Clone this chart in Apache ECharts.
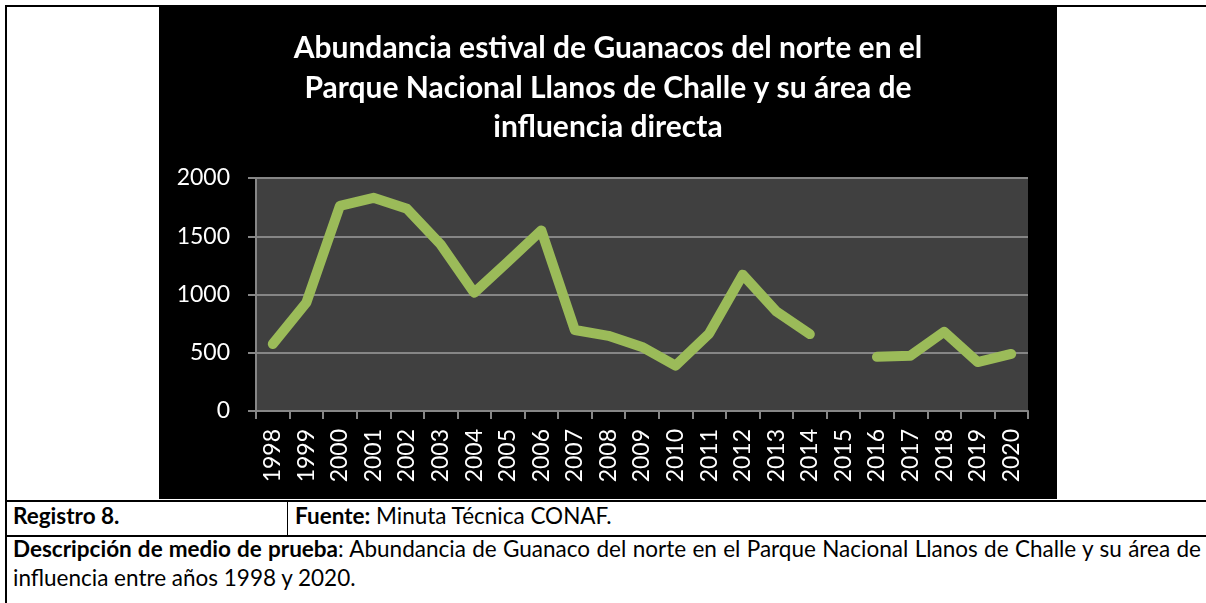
<!DOCTYPE html>
<html>
<head>
<meta charset="utf-8">
<script src="https://cdn.jsdelivr.net/npm/echarts@6/dist/echarts.min.js"></script>
<style>
	body{margin:0;width:1206px;height:603px;background:#fff;position:relative;overflow:hidden;font-family:Lato,"Open Sans",sans-serif;color:#000;}
	.ln{position:absolute;background:#000;}
	#grafico{position:absolute;left:159px;top:7px;width:898px;height:492px;background:#000;}
	.txt{position:absolute;font-size:22.5px;line-height:29px;white-space:nowrap;}
	#desc1{position:absolute;left:13px;top:534px;width:1188px;font-size:22.5px;line-height:29px;text-align:justify;text-align-last:justify;}
	#desc2{position:absolute;left:13px;top:563px;font-size:22.5px;line-height:29px;white-space:nowrap;}
</style>
</head>
<body>
<div class="ln" style="left:5px;top:5px;width:1201px;height:2px;"></div>
<div class="ln" style="left:5px;top:5px;width:2px;height:598px;"></div>
<div id="grafico"></div>
<div class="ln" style="left:5px;top:500px;width:1201px;height:2px;"></div>
<div class="ln" style="left:287px;top:502px;width:1px;height:33px;"></div>
<div class="ln" style="left:5px;top:535px;width:1201px;height:2px;"></div>
<div class="txt" style="left:13px;top:501px;"><b>Registro 8.</b></div>
<div class="txt" style="left:295px;top:501px;"><b>Fuente:</b> Minuta Técnica CONAF.</div>
<div id="desc1"><b>Descripción de medio de prueba</b>: Abundancia de Guanaco del norte en el Parque Nacional Llanos de Challe y su área de</div>
<div id="desc2">influencia entre años 1998 y 2020.</div>
<script>
//datos
var anios = ['1998','1999','2000','2001','2002','2003','2004','2005','2006','2007','2008','2009','2010','2011','2012','2013','2014','2015','2016','2017','2018','2019','2020'];
var guanacos = [575,930,1760,1830,1735,1430,1015,1280,1550,695,645,550,390,665,1170,855,660,null,465,475,680,420,490];
var ticksY = [0,500,1000,1500,2000];

var chart = echarts.init(document.getElementById('grafico'));
var option = {
	backgroundColor:'#000',
	animation:false,
	title:{
		text:'Abundancia estival de Guanacos del norte en el\nParque Nacional Llanos de Challe y su área de\ninfluencia directa',
		left:'center',
		top:17,
		textStyle:{color:'#fff',fontSize:30,fontWeight:'bold',fontFamily:'Lato',lineHeight:39.5}
	},
	grid:{
		left:97,
		top:171,
		right:29,
		bottom:88,
		show:true,
		backgroundColor:'#404040',
		borderWidth:0
	},
	xAxis:{
		type:'category',
		data:anios,
		boundaryGap:true,
		axisLine:{lineStyle:{color:'#868686',width:2}},
		axisTick:{show:true,length:8,inside:false,alignWithLabel:false,lineStyle:{color:'#868686',width:2}},
		axisLabel:{color:'#fff',fontSize:23,fontFamily:'Lato',rotate:90,margin:18,interval:0}
	},
	yAxis:{
		type:'value',
		min:ticksY[0],
		max:ticksY[ticksY.length-1],
		interval:500,
		axisLine:{show:true,lineStyle:{color:'#868686',width:2}},
		axisTick:{show:true,length:8,lineStyle:{color:'#868686',width:2}},
		axisLabel:{color:'#fff',fontSize:23,fontFamily:'Lato',margin:26,formatter:function(v){return String(v);}},
		splitLine:{lineStyle:{color:'#868686',width:2}}
	},
	series:[
		{
			name:'Guanacos',
			type:'line',
			data:guanacos,
			showSymbol:false,
			symbol:'none',
			connectNulls:false,
			lineStyle:{color:'#9BBB59',width:10,cap:'round',join:'round'}
		}
	]
};
chart.setOption(option);
</script>
</body>
</html>
